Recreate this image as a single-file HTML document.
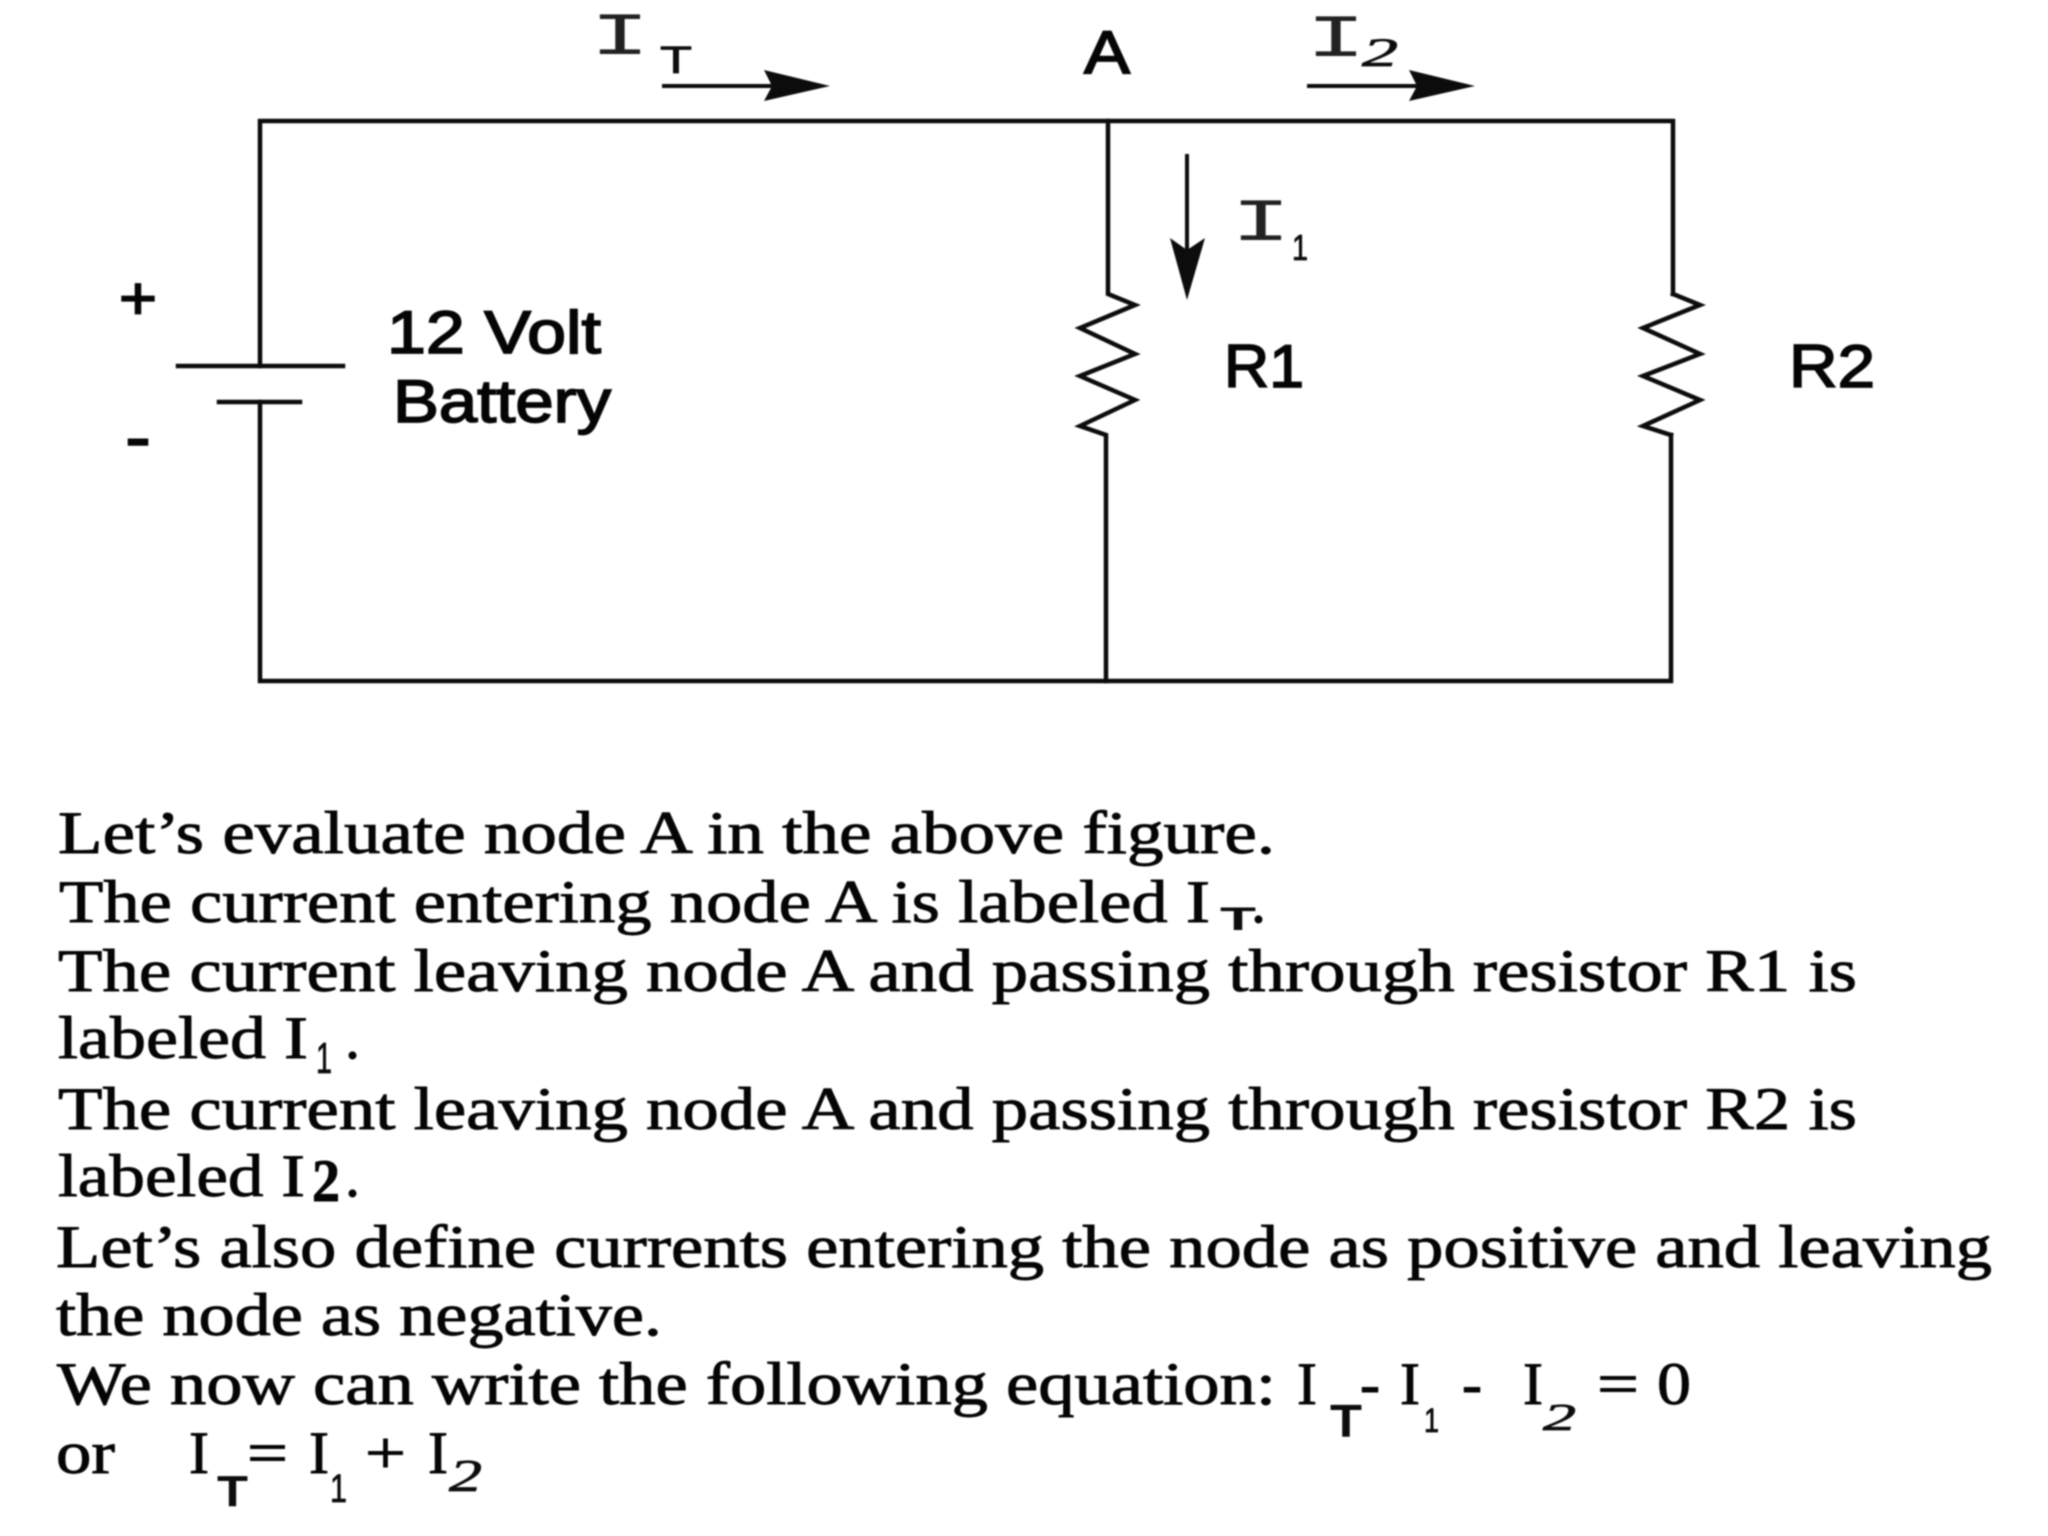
<!DOCTYPE html>
<html lang="en">
<head>
<meta charset="utf-8">
<title>Kirchhoff current law at node A</title>
<style>
html,body{margin:0;padding:0;background:#fff;width:2048px;height:1536px;overflow:hidden}
svg{display:block;filter:blur(0.9px)}
.w{stroke:#0c0c0c;stroke-width:4.5;fill:none;stroke-linecap:square;stroke-linejoin:miter}
.t{font-family:"Liberation Serif",serif;font-size:60px;fill:#050505;stroke:#050505;stroke-width:.9px}
.s{font-family:"Liberation Sans",sans-serif;font-size:60px;fill:#050505;stroke:#050505;stroke-width:1.7px}
.m{font-family:"Liberation Mono",monospace;fill:#222}
.h{font-family:"Liberation Sans",sans-serif;fill:#0c0c0c;stroke:#0c0c0c;stroke-width:.8px}
.hi{font-family:"Liberation Serif",serif;font-style:italic;fill:#0c0c0c;stroke:#0c0c0c;stroke-width:.8px}
</style>
</head>
<body>
<svg width="2048" height="1536" viewBox="0 0 2048 1536" xmlns="http://www.w3.org/2000/svg">
<rect width="2048" height="1536" fill="#fff"/>

<!-- circuit wires -->
<path class="w" d="M260 366V121H1673V294"/>
<path class="w" d="M260 402V681H1671V435"/>
<path class="w" d="M1108 121V294L1135 305L1080 328L1135 354L1080 376L1135 400L1080 426L1106 435V681"/>
<path class="w" d="M1673 294L1700 305L1643 328L1700 354L1643 376L1700 400L1643 426L1671 435"/>
<path class="w" d="M178 366H343"/>
<path class="w" d="M219 402H300"/>

<!-- arrows -->
<path class="w" style="stroke-width:4" d="M664 86H780"/>
<path d="M764 70L830 86L764 101L772 86Z" fill="#0c0c0c"/>
<path class="w" style="stroke-width:4" d="M1309 86H1425"/>
<path d="M1409 70L1475 86L1409 101L1417 86Z" fill="#0c0c0c"/>
<path class="w" style="stroke-width:4" d="M1187 156V255"/>
<path d="M1170 238L1187 300L1205 238L1187 250Z" fill="#0c0c0c"/>

<!-- diagram labels -->
<text class="s" x="1084" y="73" textLength="46" lengthAdjust="spacingAndGlyphs">A</text>
<text class="s" x="387" y="353" textLength="214" lengthAdjust="spacingAndGlyphs">12 Volt</text>
<text class="s" x="393" y="422" textLength="218" lengthAdjust="spacingAndGlyphs">Battery</text>
<text class="s" x="1224" y="387" textLength="80" lengthAdjust="spacingAndGlyphs">R1</text>
<text class="s" x="1789" y="387" textLength="86" lengthAdjust="spacingAndGlyphs">R2</text>
<text class="s" x="119" y="319" textLength="38" lengthAdjust="spacingAndGlyphs">+</text>
<text class="s" style="stroke-width:2.5px" x="126" y="458" textLength="24" lengthAdjust="spacingAndGlyphs">-</text>

<!-- handwritten current labels -->
<text class="m" font-size="60" x="590" y="54" textLength="60" lengthAdjust="spacingAndGlyphs">I</text>
<text class="h" font-size="38" x="660" y="73" textLength="32" lengthAdjust="spacingAndGlyphs">T</text>
<text class="m" font-size="60" x="1306" y="56" textLength="60" lengthAdjust="spacingAndGlyphs">I</text>
<text class="hi" font-size="40" x="1362" y="66" textLength="36" lengthAdjust="spacingAndGlyphs">2</text>
<text class="m" font-size="60" x="1231" y="240" textLength="60" lengthAdjust="spacingAndGlyphs">I</text>
<text class="h" font-size="36" x="1292" y="260" textLength="16" lengthAdjust="spacingAndGlyphs">1</text>

<!-- body text -->
<text class="t" x="58" y="853" textLength="1217" lengthAdjust="spacingAndGlyphs">Let’s evaluate node A in the above figure.</text>
<text class="t" x="59" y="922" textLength="1151" lengthAdjust="spacingAndGlyphs">The current entering node A is labeled I</text>
<text class="h" style="font-weight:bold;stroke-width:0" font-size="32" x="1220" y="930" textLength="36" lengthAdjust="spacingAndGlyphs">T</text>
<text class="t" x="1251" y="922">.</text>
<text class="t" x="58" y="991" textLength="1799" lengthAdjust="spacingAndGlyphs">The current leaving node A and passing through resistor R1 is</text>
<text class="t" x="58" y="1058" textLength="250" lengthAdjust="spacingAndGlyphs">labeled I</text>
<text class="h" font-size="44" x="316" y="1073" textLength="16" lengthAdjust="spacingAndGlyphs">1</text>
<text class="t" x="345" y="1058">.</text>
<text class="t" x="58" y="1129" textLength="1799" lengthAdjust="spacingAndGlyphs">The current leaving node A and passing through resistor R2 is</text>
<text class="t" x="58" y="1196" textLength="247" lengthAdjust="spacingAndGlyphs">labeled I</text>
<text class="t" style="font-weight:bold" font-size="28" x="312" y="1201" textLength="28" lengthAdjust="spacingAndGlyphs">2</text>
<text class="t" x="345" y="1196">.</text>
<text class="t" x="56" y="1267" textLength="1936" lengthAdjust="spacingAndGlyphs">Let’s also define currents entering the node as positive and leaving</text>
<text class="t" x="56" y="1335" textLength="606" lengthAdjust="spacingAndGlyphs">the node as negative.</text>
<text class="t" x="57" y="1404" textLength="1219" lengthAdjust="spacingAndGlyphs">We now can write the following equation:</text>
<text class="t" x="1297" y="1404" textLength="20" lengthAdjust="spacingAndGlyphs">I</text>
<text class="h" style="font-weight:bold;stroke-width:0" font-size="46" x="1330" y="1437" textLength="32" lengthAdjust="spacingAndGlyphs">T</text>
<text class="t" x="1360" y="1404" textLength="20" lengthAdjust="spacingAndGlyphs">-</text>
<text class="t" x="1400" y="1404" textLength="20" lengthAdjust="spacingAndGlyphs">I</text>
<text class="h" font-size="34" x="1424" y="1432" textLength="15" lengthAdjust="spacingAndGlyphs">1</text>
<text class="t" x="1462" y="1404" textLength="20" lengthAdjust="spacingAndGlyphs">-</text>
<text class="t" x="1523" y="1404" textLength="20" lengthAdjust="spacingAndGlyphs">I</text>
<text class="hi" font-size="38" x="1543" y="1430" textLength="33" lengthAdjust="spacingAndGlyphs">2</text>
<text class="t" x="1597" y="1404" textLength="42" lengthAdjust="spacingAndGlyphs">=</text>
<text class="t" x="1657" y="1404" textLength="34" lengthAdjust="spacingAndGlyphs">0</text>
<text class="t" x="56" y="1473" textLength="59" lengthAdjust="spacingAndGlyphs">or</text>
<text class="t" x="189" y="1473" textLength="20" lengthAdjust="spacingAndGlyphs">I</text>
<text class="h" style="font-weight:bold;stroke-width:0" font-size="44" x="217" y="1506" textLength="31" lengthAdjust="spacingAndGlyphs">T</text>
<text class="t" x="247" y="1473" textLength="41" lengthAdjust="spacingAndGlyphs">=</text>
<text class="t" x="309" y="1473" textLength="20" lengthAdjust="spacingAndGlyphs">I</text>
<text class="h" font-size="40" x="330" y="1502" textLength="17" lengthAdjust="spacingAndGlyphs">1</text>
<text class="t" x="365" y="1473" textLength="41" lengthAdjust="spacingAndGlyphs">+</text>
<text class="t" x="428" y="1473" textLength="20" lengthAdjust="spacingAndGlyphs">I</text>
<text class="hi" font-size="46" x="449" y="1491" textLength="33" lengthAdjust="spacingAndGlyphs">2</text>
</svg>
</body>
</html>
